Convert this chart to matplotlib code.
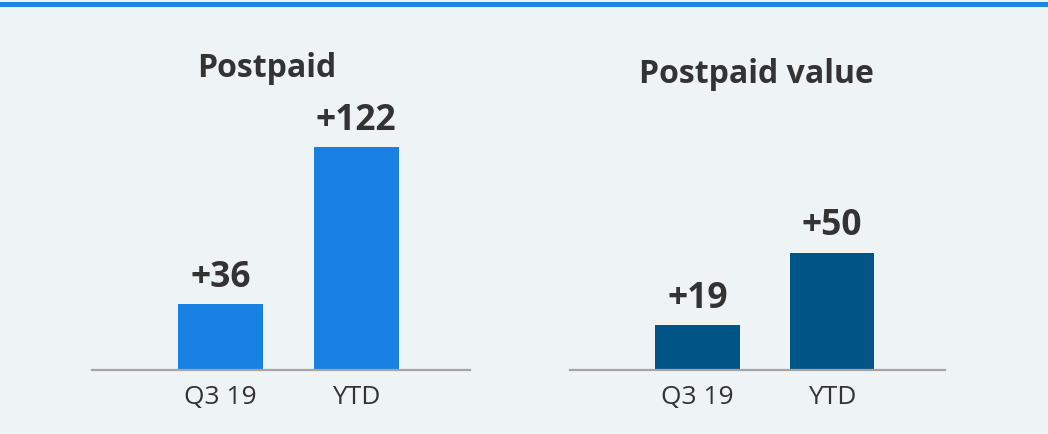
import matplotlib
matplotlib.use("Agg")
from matplotlib import pyplot as plt

# data
categories = ["Q3 19", "YTD"]
postpaid = [36, 122]
postpaid_value = [19, 50]
titles = ["Postpaid", "Postpaid value"]

BG = "#EEF3F6"
TXT = "#333333"

plt.rcParams['font.family'] = ['Open Sans', 'DejaVu Sans']

fig = plt.figure(figsize=(10.48, 4.34), dpi=100, facecolor=BG)

# blue strip on top
fig.add_artist(plt.Rectangle((0, 1 - 7 / 434), 1, 5 / 434, transform=fig.transFigure,
                             color="#1E85E3", lw=0))

W, H = 1048, 434


def panel(left_px, right_px, values, color, ymax, title, title_x, title_y):
    ax = fig.add_axes([left_px / W, 64 / H, (right_px - left_px) / W, 270 / H])
    ax.set_facecolor(BG)
    x = range(len(values))
    ax.bar(x, values, width=0.63, color=color, zorder=2)
    ax.set_ylim(0, ymax)
    ax.set_xlim(-0.95, 1.84)
    for s in ["top", "right", "left"]:
        ax.spines[s].set_visible(False)
    ax.spines["bottom"].set_color("#A5A5A5")
    ax.spines["bottom"].set_linewidth(1.6)
    ax.set_yticks([])
    ax.set_xticks(list(x))
    ax.set_xticklabels(categories, fontsize=19, color=TXT)
    ax.tick_params(axis="x", length=0, pad=11)
    for xi, v in zip(x, values):
        ax.annotate("+%d" % v, (xi, v), xytext=(0, 6), textcoords="offset points",
                    ha="center", va="bottom", fontsize=25.5, fontweight="bold", color=TXT)
    fig.text(title_x / W, 1 - title_y / H, title, ha="center", va="baseline",
             fontsize=23, fontweight="bold", color=TXT)
    return ax


panel(92, 470, postpaid, "#1880E3", 148, titles[0], 267, 77)
panel(570, 945, postpaid_value, "#005587", 115, titles[1], 756, 83)

fig.savefig("out.png", dpi=100, facecolor=BG)
